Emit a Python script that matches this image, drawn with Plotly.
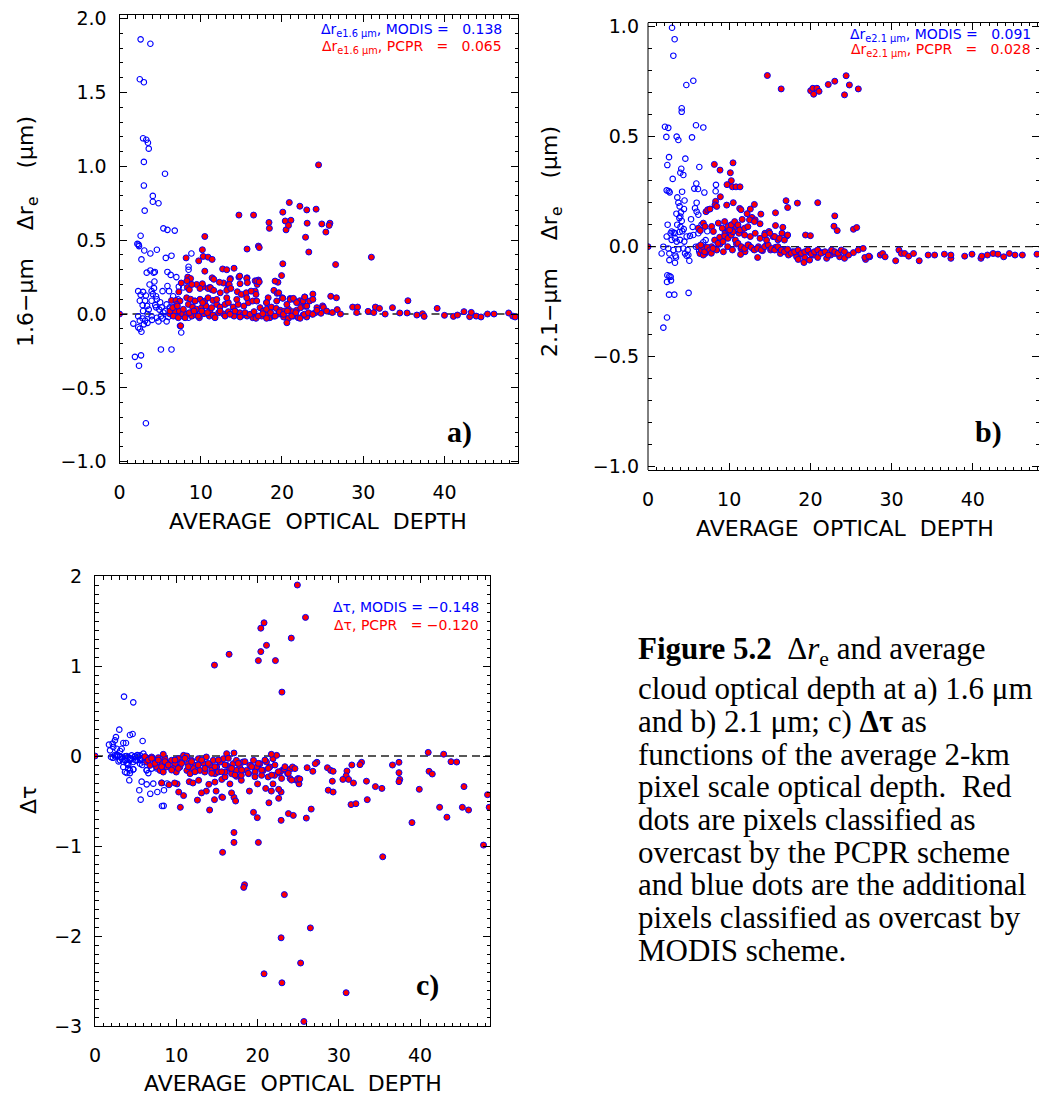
import plotly.graph_objects as go

# ---------------- data ----------------
# Panel a: 1.6-um delta r_e vs average optical depth
A_MODIS_ONLY = [
    (2.6, 1.86), (3.8, 1.83), (2.5, 1.59), (3.0, 1.57), (2.9, 1.19), (3.3, 1.18), (3.5, 1.16), (3.6, 1.12),
    (3.0, 1.03), (5.6, 0.95), (3.0, 0.87), (4.1, 0.80), (4.1, 0.76), (4.8, 0.75), (3.1, 0.70), (5.4, 0.58),
    (5.9, 0.57), (6.8, 0.565), (2.6, 0.53), (2.2, 0.475), (2.35, 0.47), (2.4, 0.46), (2.7, 0.37), (3.05, 0.43),
    (3.8, 0.41), (4.6, 0.435), (5.7, 0.38), (6.4, 0.395), (8.85, 0.41), (8.5, 0.32), (8.5, 0.30),
    (3.35, 0.28), (3.8, 0.295), (4.2, 0.28), (4.35, 0.285), (5.9, 0.285), (6.3, 0.265), (7.0, 0.25), (7.3, 0.185),
    (7.85, 0.18), (2.3, 0.155), (2.9, 0.15), (2.6, 0.13), (3.25, 0.125), (3.95, 0.155), (4.25, 0.175), (4.1, 0.135),
    (4.5, 0.12), (5.3, 0.155), (5.9, 0.19), (6.1, 0.155), (2.5, 0.09), (3.15, 0.09), (2.85, 0.06), (3.4, 0.055),
    (3.95, 0.09), (4.5, 0.045), (4.9, 0.03), (5.2, 0.045), (5.4, 0.01), (5.8, 0.065), (6.2, 0.045),
    (2.3, -0.015), (2.85, -0.03), (3.45, 0.0), (3.95, -0.015), (4.6, -0.025), (5.1, -0.015), (5.3, -0.03),
    (2.5, -0.045), (3.15, -0.045), (1.7, -0.065), (2.3, -0.09), (2.7, -0.12), (2.5, -0.10),
    (5.1, -0.24), (6.4, -0.24), (7.45, -0.015), (8.5, -0.025), (7.6, -0.125), (7.45, -0.08), (3.0, -0.07),
    (3.45, -0.06), (1.9, -0.29), (2.65, -0.28), (2.4, -0.35), (3.25, -0.74),
    (3.7, 0.20), (4.3, 0.22), (4.6, 0.10), (5.0, 0.08), (5.6, 0.02), (6.0, -0.02), (4.4, 0.06), (3.6, 0.03),
    (2.9, 0.02), (4.0, -0.04), (4.8, -0.05), (5.8, -0.05), (6.6, 0.12), (7.2, 0.10), (6.9, 0.03),
]
A_PCPR = [
    (0.0, 0.0),
    (24.5, 1.01), (20.9, 0.755), (22.2, 0.73), (24.2, 0.71), (23.05, 0.705), (20.1, 0.69), (14.7, 0.67),
    (16.5, 0.67), (18.4, 0.62), (18.45, 0.58), (20.4, 0.63), (21.1, 0.635), (20.5, 0.57), (20.8, 0.60),
    (23.1, 0.615), (24.9, 0.61), (25.9, 0.615), (25.8, 0.60), (25.4, 0.555), (22.9, 0.52), (10.5, 0.525),
    (23.3, 0.42), (26.6, 0.335), (31.0, 0.385), (20.1, 0.34), (15.7, 0.44), (17.1, 0.46), (17.2, 0.45),
    (10.2, 0.435), (10.3, 0.39), (10.9, 0.385), (11.4, 0.37), (9.75, 0.36), (8.2, 0.38), (14.1, 0.31),
    (12.7, 0.305), (13.2, 0.30), (19.95, 0.26), (19.5, 0.215), (10.5, 0.29), (11.4, 0.245), (11.6, 0.235),
    (8.4, 0.25), (8.75, 0.24), (8.3, 0.225), (13.65, 0.24), (14.7, 0.25), (15.7, 0.245), (16.7, 0.225),
    (17.1, 0.23), (16.95, 0.20), (12.8, 0.21), (13.4, 0.20), (13.3, 0.17), (12.3, 0.215), (10.3, 0.185),
    (11.1, 0.18), (11.35, 0.165), (9.5, 0.20), (8.35, 0.18), (8.6, 0.165), (8.9, 0.20), (7.6, 0.21),
    (7.3, 0.15), (19.0, 0.16), (19.4, 0.14), (20.05, 0.11), (21.0, 0.105), (21.4, 0.10), (22.8, 0.115),
    (23.8, 0.135), (26.0, 0.12), (26.7, 0.11), (35.5, 0.09), (22.2, 0.09), (22.5, 0.075), (25.0, 0.055),
    (25.1, 0.045), (14.8, 0.257), (15.66, 0.241), (15.74, 0.212), (14.84, 0.205), (16.9, 0.223),
    (17.2, 0.218), (16.7, 0.155), (13.6, 0.234), (13.5, 0.2), (10.2, 0.205), (9.9, 0.173), (10.9, 0.173),
    (11.2, 0.178), (11.6, 0.16), (12.4, 0.144), (13.2, 0.16), (13.7, 0.173), (14.5, 0.151), (15.0, 0.133),
    (15.6, 0.144), (16.2, 0.155), (16.8, 0.133), (6.4, 0.092), (6.96, 0.092), (7.45, 0.088), (7.04, 0.065),
    (6.63, 0.043), (6.83, 0.02), (7.37, 0.02), (6.2, 0.0), (6.63, -0.014), (7.24, -0.025), (7.78, 0.0),
    (7.53, -0.08), (8.27, 0.11), (8.76, 0.10), (9.3, 0.088), (9.91, 0.10), (10.5, 0.088), (10.9, 0.11),
    (11.5, 0.092), (8.48, 0.065), (9.0, 0.047), (9.5, 0.032), (10.1, 0.043), (10.65, 0.054), (11.1, 0.02),
    (8.27, 0.0), (8.9, -0.014), (9.42, -0.007), (9.83, -0.025), (10.4, 0.002), (11.06, -0.014),
    (11.5, -0.007), (11.97, 0.065), (12.38, 0.047), (12.99, 0.065), (13.4, 0.077), (14.0, 0.047),
    (14.6, 0.065), (15.3, 0.054), (15.87, 0.077), (16.4, 0.088), (12.2, 0.009), (12.8, 0.0), (13.4, 0.016),
    (14.1, -0.014), (14.8, 0.009), (15.2, -0.007), (15.7, -0.014), (16.4, -0.025), (16.8, -0.029),
    (17.3, 0.043), (17.7, 0.02), (18.1, 0.032), (18.7, 0.047), (19.3, 0.038), (19.8, 0.025), (20.3, 0.02),
    (20.8, 0.032), (21.3, 0.016), (21.8, 0.025), (22.3, 0.043), (22.9, 0.052), (23.4, 0.088), (23.8, 0.099),
    (24.3, 0.043), (17.5, -0.014), (18.0, -0.007), (18.5, -0.025), (19.0, -0.014), (19.6, 0.0), (20.2, -0.02),
    (20.8, -0.029), (21.4, -0.014), (22.0, -0.025), (22.6, -0.007), (23.05, -0.02), (23.7, 0.0), (24.1, 0.009),
    (20.6, -0.059), (21.0, 0.099), (21.4, 0.106), (22.6, 0.088), (22.8, 0.115), (19.15, 0.223), (19.6, 0.144),
    (20.1, 0.106), (18.3, 0.11), (18.1, 0.077), (25.5, 0.02), (26.2, 0.01), (24.8, 0.005), (26.8, 0.03),
    (6.2, 0.02), (6.55, 0.043), (7.12, 0.054), (7.86, 0.032), (8.07, -0.025), (8.6, 0.009), (9.17, 0.02),
    (9.71, -0.014), (10.12, 0.02), (10.82, 0.009), (11.35, 0.043), (11.76, -0.025), (12.38, 0.02),
    (12.99, -0.014), (13.6, -0.002), (14.22, 0.02), (14.84, -0.02), (15.45, 0.009), (16.07, -0.002),
    (16.56, 0.016), (17.1, -0.014), (17.63, 0.002), (18.1, -0.029), (18.6, 0.009), (19.15, -0.014),
    (19.68, 0.014), (20.18, -0.002), (20.67, 0.02), (21.2, -0.014), (21.7, 0.009), (22.23, -0.029),
    (22.76, -0.002), (23.25, 0.009), (23.79, -0.002), (24.3, 0.025), (9.3, 0.088), (10.24, 0.077),
    (11.97, 0.099), (13.2, 0.11), (14.43, 0.099), (15.66, 0.11), (16.89, 0.088), (18.1, 0.077),
    (19.35, 0.088), (20.6, 0.065), (21.8, 0.077), (23.05, 0.054),
    (27.2, 0.0), (28.7, 0.047), (29.3, 0.047), (29.2, 0.01), (30.6, 0.018), (31.3, 0.01), (31.5, 0.047),
    (32.0, 0.038), (32.7, 0.0), (33.6, 0.043), (34.5, 0.007), (35.4, 0.007), (36.6, -0.007), (37.3, 0.002),
    (37.5, -0.016), (39.1, 0.038), (40.0, -0.009), (41.1, -0.016), (41.6, -0.007), (42.4, 0.016),
    (43.1, -0.018), (43.3, 0.011), (43.9, -0.014), (44.5, -0.02), (45.3, 0.0), (46.1, 0.0), (47.9, 0.007),
    (48.4, -0.014), (48.7, -0.02),
]

# Panel b: 2.1-um delta r_e vs average optical depth
B_MODIS_ONLY = [
    (2.96, 0.995), (3.28, 0.943), (3.12, 0.868), (4.72, 0.735), (5.58, 0.754), (4.15, 0.629), (4.15, 0.613),
    (2.09, 0.545), (2.5, 0.54), (2.26, 0.499), (3.53, 0.50), (3.74, 0.485), (5.91, 0.552), (6.81, 0.542),
    (5.42, 0.497), (2.59, 0.407), (2.38, 0.371), (4.6, 0.40), (4.1, 0.354), (3.98, 0.336), (4.35, 0.326),
    (6.32, 0.362), (3.04, 0.308), (2.3, 0.256), (2.67, 0.247), (2.55, 0.253), (5.95, 0.287), (5.7, 0.264),
    (6.16, 0.262), (6.94, 0.246), (3.61, 0.224), (8.37, 0.281), (8.33, 0.252), (3.74, 0.20), (3.9, 0.183),
    (4.06, 0.156), (3.86, 0.13), (4.15, 0.117), (3.98, 0.137), (4.43, 0.171), (5.99, 0.2), (5.79, 0.175),
    (5.99, 0.159), (6.2, 0.145), (2.42, 0.10), (2.91, 0.069), (3.16, 0.064), (2.79, 0.061), (3.32, 0.061),
    (3.9, 0.067), (4.23, 0.07), (5.3, 0.125), (2.3, 0.046), (2.91, 0.031), (3.32, 0.038), (3.53, 0.023),
    (3.94, 0.031), (4.47, 0.023), (4.76, 0.046), (5.17, 0.049), (5.58, 0.053), (6.2, 0.061), (1.89, 0.0),
    (2.5, -0.008), (3.12, -0.015), (3.74, -0.012), (4.35, -0.008), (4.88, -0.015), (4.56, -0.031),
    (4.97, -0.038), (1.68, -0.031), (2.63, -0.031), (3.37, -0.041), (3.45, -0.049), (2.63, -0.061),
    (3.32, -0.073), (4.76, -0.041), (5.09, -0.064), (2.38, -0.13), (2.63, -0.134), (2.79, -0.137),
    (2.34, -0.16), (2.83, -0.153), (2.59, -0.218), (3.24, -0.218), (5.0, -0.21), (2.34, -0.322),
    (1.89, -0.368), (3.6, 0.10), (4.0, 0.09), (4.4, 0.08), (3.5, 0.15), (4.2, 0.25), (4.5, 0.21), (5.5, 0.09),
    (6.6, 0.10), (7.3, 0.07), (6.8, 0.02), (5.9, 0.0), (6.3, -0.02), (7.1, 0.03),
]
B_PCPR = [
    (0.0, 0.0),
    (14.7, 0.778), (16.4, 0.717), (20.03, 0.709), (20.3, 0.72), (20.8, 0.72), (21.06, 0.706), (20.4, 0.693),
    (22.2, 0.737), (23.0, 0.752), (24.2, 0.69), (24.4, 0.777), (24.8, 0.735), (25.9, 0.717),
    (8.17, 0.374), (10.47, 0.381), (8.87, 0.348), (10.14, 0.336), (10.26, 0.30), (9.73, 0.282), (10.4, 0.272),
    (10.84, 0.272), (11.33, 0.272), (8.91, 0.227), (8.33, 0.206), (8.25, 0.19), (8.46, 0.183), (10.5, 0.20),
    (9.69, 0.189), (11.29, 0.174), (11.45, 0.168), (12.6, 0.171), (11.6, 0.124), (13.1, 0.192), (12.2, 0.15),
    (12.8, 0.133), (13.2, 0.122), (13.9, 0.148), (13.8, 0.104), (15.7, 0.154), (15.7, 0.096), (17.0, 0.209),
    (17.2, 0.178), (18.4, 0.198), (20.9, 0.20), (16.6, 0.088), (19.4, 0.053), (20.0, 0.05), (23.0, 0.14),
    (22.9, 0.093), (23.3, 0.073), (25.3, 0.079), (25.7, 0.087), (7.14, 0.159), (7.35, 0.168), (7.63, 0.171),
    (6.2, 0.084), (6.44, 0.073), (6.81, 0.107), (7.02, 0.092), (7.84, 0.092), (8.05, 0.069), (8.66, 0.107),
    (9.15, 0.084), (9.48, 0.061), (9.89, 0.076), (10.22, 0.099), (10.8, 0.092), (11.2, 0.061), (11.6, 0.076),
    (11.9, 0.053), (12.6, 0.046), (13.2, 0.061), (13.8, 0.038), (14.4, 0.061), (14.9, 0.069), (15.4, 0.046),
    (16.0, 0.031), (16.5, 0.061), (17.1, 0.049), (6.2, 0.0), (6.61, -0.015), (7.02, -0.031), (7.43, -0.008),
    (6.4, -0.031), (6.81, -0.038), (7.84, 0.0), (8.46, -0.015), (8.87, 0.012), (9.28, -0.023), (9.81, 0.0),
    (10.4, -0.015), (10.9, 0.012), (11.45, -0.008), (11.95, -0.023), (12.4, 0.008), (13.0, -0.012),
    (13.6, 0.0), (14.1, -0.018), (14.6, 0.008), (15.1, -0.015), (15.7, -0.003), (16.3, -0.031),
    (16.8, -0.015), (17.3, -0.038), (17.8, -0.023), (18.3, -0.046), (18.8, -0.031), (19.3, -0.049),
    (19.8, -0.023), (20.4, -0.038), (20.9, -0.049), (21.4, -0.027), (22.0, -0.053), (22.5, -0.038),
    (23.0, -0.031), (23.6, -0.046), (24.2, -0.053), (24.7, -0.038), (25.3, -0.027), (25.9, -0.015),
    (26.5, -0.008), (26.8, -0.058), (27.3, -0.046), (19.2, -0.072), (19.9, -0.061), (18.5, -0.058),
    (13.5, -0.049), (11.4, -0.035), (26.7, -0.049), (27.2, -0.043),
    (6.57, -0.015), (6.77, 0.0), (6.98, -0.023), (7.3, -0.003), (7.6, -0.015), (6.5, 0.008), (7.8, -0.03),
    (8.0, -0.008), (8.21, 0.03), (8.62, 0.015), (8.83, 0.043), (9.24, 0.023), (9.44, 0.049), (9.85, 0.038),
    (10.26, 0.053), (10.47, 0.068), (10.76, 0.03), (11.08, 0.015), (11.49, 0.0), (11.9, -0.008), (12.3, 0.008),
    (12.7, -0.003), (13.1, -0.015), (13.5, -0.008), (13.96, -0.015), (14.37, 0.0), (14.8, 0.008),
    (15.2, -0.008), (15.6, -0.015), (16.0, 0.0), (16.4, -0.015), (16.8, -0.023), (17.2, -0.012),
    (17.65, -0.03), (18.06, -0.023), (18.5, -0.015), (18.9, -0.03), (19.3, -0.023), (19.7, -0.015),
    (20.1, -0.033), (20.5, -0.023), (20.9, -0.015), (21.3, -0.03), (21.8, -0.023), (22.2, -0.038),
    (22.6, -0.015), (23.0, -0.023), (23.4, -0.03), (23.8, -0.015), (24.2, -0.023), (9.44, 0.114),
    (9.85, 0.091), (10.06, 0.076), (10.26, 0.099), (10.67, 0.114), (11.08, 0.099), (11.29, 0.076),
    (11.9, 0.084), (12.3, 0.091), (12.5, 0.122), (13.1, 0.114), (14.37, 0.053), (14.6, 0.03), (15.0, 0.061),
    (15.6, 0.046), (16.2, 0.038), (16.8, 0.03), (17.2, 0.053),
    (28.6, -0.038), (28.9, -0.031), (29.2, -0.046), (30.5, -0.064), (30.9, -0.015), (31.2, -0.031),
    (31.6, -0.031), (32.1, -0.043), (32.7, -0.031), (33.4, -0.064), (34.5, -0.038), (35.3, -0.038),
    (36.5, -0.034), (37.3, -0.053), (37.3, -0.038), (39.0, -0.043), (39.9, -0.034), (41.0, -0.053),
    (41.1, -0.043), (41.8, -0.038), (42.5, -0.031), (43.1, -0.034), (43.8, -0.046), (44.5, -0.031),
    (45.2, -0.038), (46.1, -0.038), (47.9, -0.034),
]

# Panel c: delta tau vs average optical depth
C_MODIS_ONLY = [
    (3.57, 0.66), (4.71, 0.596), (2.99, 0.293), (4.3, 0.233), (4.63, 0.244), (3.48, 0.144), (3.81, 0.144),
    (5.86, 0.167), (1.72, 0.126), (2.17, 0.137), (2.46, 0.174), (2.58, 0.21), (2.25, 0.1), (2.67, 0.081),
    (1.85, 0.063), (3.08, 0.056), (3.28, 0.081), (1.97, -0.011), (2.46, -0.004), (2.87, 0.007),
    (3.28, -0.011), (3.69, -0.004), (4.1, -0.011), (4.51, 0.007), (4.92, -0.004), (5.33, -0.011),
    (5.74, -0.03), (3.08, -0.048), (3.48, -0.067), (3.9, -0.078), (4.3, -0.048), (4.71, -0.067),
    (5.13, -0.048), (5.54, -0.085), (5.95, -0.067), (3.48, -0.122), (3.69, -0.178), (3.9, -0.189),
    (4.3, -0.16), (4.71, -0.148), (4.1, -0.14), (4.22, -0.27), (5.74, -0.285), (6.36, -0.315), (5.45, -0.38),
    (6.8, -0.42), (7.67, -0.4), (8.24, -0.556), (5.62, -0.485), (7.17, -0.307), (6.36, -0.16), (6.97, -0.14),
    (5.95, 0.026), (5.54, 0.007), (2.46, 0.011), (3.08, -0.007), (3.69, -0.045), (4.3, -0.026),
    (4.92, -0.007), (5.54, -0.045), (6.15, -0.026), (4.1, -0.1), (4.3, -0.19), (4.71, -0.149), (6.36, -0.156),
    (6.56, -0.19), (8.2, -0.298), (8.86, -0.305), (7.59, -0.138), (8.49, -0.38), (8.45, -0.554),
    (2.2, -0.02), (2.7, 0.01), (3.3, -0.03), (3.9, 0.0), (4.5, -0.03), (5.0, -0.05), (5.2, 0.01),
    (2.9, -0.06), (4.0, -0.09), (5.8, -0.1),
]
C_PCPR = [
    (0.0, 0.0),
    (24.9, 1.90), (25.9, 1.54), (20.8, 1.48), (20.4, 1.42), (24.15, 1.31), (21.1, 1.23), (16.5, 1.13),
    (20.4, 1.16), (20.1, 1.06), (22.2, 1.06), (14.7, 1.01), (23.0, 0.71), (17.1, -0.85), (17.1, -0.96),
    (15.7, -1.07), (20.1, -0.96), (18.4, -1.43), (18.3, -1.46), (23.3, -1.54), (35.4, -1.12), (26.5, -1.91),
    (22.9, -2.02), (25.3, -2.30), (20.8, -2.42), (23.0, -2.52), (30.9, -2.63), (25.7, -2.95), (47.8, -0.99),
    (48.3, -0.43), (48.5, -0.57), (39.0, -0.74), (42.4, -0.57), (43.3, -0.68), (45.2, -0.57), (45.96, -0.60),
    (45.4, -0.34), (39.9, -0.37), (41.0, 0.04), (42.9, 0.02), (43.8, -0.063), (44.5, -0.067), (41.1, -0.17),
    (41.5, -0.20), (36.6, -0.10), (37.4, -0.07), (37.4, -0.185), (37.5, -0.26), (37.4, -0.285), (34.5, -0.34),
    (35.3, -0.36), (33.4, -0.28), (33.5, -0.485), (31.5, -0.54), (32.1, -0.53), (32.8, -0.07), (32.6, -0.096),
    (31.6, -0.10), (31.0, -0.167), (30.9, -0.22), (31.2, -0.26), (31.8, -0.30), (30.5, -0.26), (28.6, -0.13),
    (29.0, -0.16), (29.3, -0.17), (29.2, -0.28), (28.7, -0.38), (29.3, -0.40), (27.3, -0.07), (27.1, -0.085),
    (26.8, -0.17), (26.1, -0.13), (26.6, -0.59), (26.0, -0.69), (23.8, -0.64), (24.4, -0.66), (22.9, -0.715),
    (19.97, -0.685), (19.5, -0.626), (21.4, -0.52), (22.6, -0.47), (22.9, -0.40), (22.6, -0.37),
    (21.9, -0.31), (21.7, -0.39), (19.0, -0.39), (20.0, -0.31), (21.0, -0.36), (17.1, -0.46), (17.3, -0.50),
    (16.8, -0.41), (16.6, -0.31), (15.6, -0.455), (15.7, -0.46), (14.7, -0.485), (14.9, -0.39), (13.7, -0.39),
    (13.1, -0.41), (14.1, -0.60), (12.6, -0.49), (10.9, -0.44), (10.3, -0.40), (10.5, -0.57), (10.1, -0.31),
    (9.8, -0.30), (8.2, -0.30), (9.1, -0.32), (11.6, -0.285), (12.05, -0.30), (12.75, -0.27), (14.0, -0.315),
    (14.75, -0.29), (15.6, -0.26), (16.0, -0.233), (17.4, -0.226), (18.0, -0.27), (22.7, -0.19),
    (23.7, -0.196), (24.0, -0.25), (24.8, -0.27), (25.1, -0.31), (25.0, -0.25),
    (6.15, -0.011), (6.56, -0.03), (6.97, -0.011), (7.38, -0.048), (7.79, -0.019), (8.2, -0.067),
    (8.61, -0.03), (9.02, -0.078), (9.43, -0.048), (9.84, -0.085), (10.25, -0.03), (10.66, -0.067),
    (11.07, -0.011), (11.48, -0.085), (11.89, -0.048), (12.3, -0.104), (12.71, -0.03), (13.3, -0.078),
    (13.7, -0.011), (14.15, -0.104), (14.56, -0.048), (14.97, -0.122), (15.38, -0.067), (15.8, -0.03),
    (16.2, -0.104), (16.6, -0.14), (17.0, -0.085), (17.4, -0.048), (17.8, -0.122), (18.2, -0.067),
    (18.65, -0.16), (19.06, -0.104), (19.5, -0.048), (19.9, -0.122), (20.3, -0.085), (20.7, -0.16),
    (21.1, -0.067), (21.5, -0.122), (21.9, -0.03), (22.35, 0.007), (21.7, 0.019), (6.36, -0.067),
    (6.77, -0.104), (7.59, -0.122), (8.0, -0.16), (8.4, -0.178), (8.8, -0.122), (9.6, -0.14), (10.0, -0.178),
    (10.45, -0.122), (11.3, -0.16), (11.7, -0.196), (12.1, -0.14), (12.9, -0.16), (13.5, -0.178),
    (14.35, -0.16), (14.76, -0.196), (15.17, -0.178), (16.0, -0.178), (16.8, -0.196), (17.4, -0.16),
    (18.0, -0.215), (18.9, -0.196), (19.7, -0.178), (20.5, -0.215), (21.3, -0.233), (22.1, -0.215),
    (23.0, -0.16), (23.3, -0.144), (8.4, 0.019), (10.9, 0.007), (11.3, 0.0), (16.2, 0.026), (17.1, 0.033),
    (24.0, -0.148), (24.3, -0.122), (24.6, -0.14), (24.9, -0.26), (25.2, -0.256),
    (6.15, -0.007), (6.56, -0.045), (6.97, -0.026), (7.38, -0.082), (7.79, -0.045), (8.2, -0.119),
    (8.61, -0.063), (9.02, -0.1), (9.43, -0.156), (9.84, -0.045), (10.25, -0.138), (10.66, -0.082),
    (11.07, -0.026), (11.48, -0.119), (11.89, -0.063), (12.3, -0.175), (12.71, -0.1), (13.12, -0.045),
    (13.53, -0.138), (13.94, -0.082), (14.35, -0.193), (14.76, -0.119), (15.17, -0.045), (15.58, -0.175),
    (15.99, -0.1), (16.4, -0.026), (16.81, -0.138), (17.22, -0.212), (17.63, -0.082), (18.04, -0.156),
    (18.45, -0.063), (18.86, -0.193), (19.27, -0.119), (19.68, -0.231), (20.09, -0.082), (20.5, -0.156),
    (20.91, -0.045), (21.32, -0.138), (21.73, -0.212), (22.14, -0.1), (22.55, -0.175), (22.96, -0.249),
    (23.37, -0.119), (23.78, -0.193), (24.19, -0.268),
]

LEGEND_A = ("0.138", "0.065")
LEGEND_B = ("0.091", "0.028")
LEGEND_C = ("−0.148", "−0.120")

X_TICKS = [0, 10, 20, 30, 40]

CAPTION_LINES = [
    "<b>Figure 5.2</b>\u00a0\u00a0Δ<i>r</i><sub>e</sub> and average",
    "cloud optical depth at a) 1.6 μm",
    "and b) 2.1 μm; c) <b>Δτ</b> as",
    "functions of the average 2-km",
    "pixel scale optical depth.\u00a0\u00a0Red",
    "dots are pixels classified as",
    "overcast by the PCPR scheme",
    "and blue dots are the additional",
    "pixels classified as overcast by",
    "MODIS scheme.",
]

# ---------------- layout helpers ----------------
W, H = 1039, 1095
BLUE = "rgb(0,0,255)"
RED = "rgb(255,0,0)"
FONT = "DejaVu Sans"
SERIF = "Liberation Serif"
NB = "\u00a0"


def fx(p):
    return p / W


def fy(p):
    return 1 - p / H


fig = go.Figure()

panels = [
    dict(id="", modis=A_MODIS_ONLY, pcpr=A_PCPR, xpx=(119.5, 518), ypx=(15, 463.3), xr=[0, 49.05],
         yr=[-1.011, 2.025], ydt=0.5, yfmt=".1f", rightline=True),
    dict(id="2", modis=B_MODIS_ONLY, pcpr=B_PCPR, xpx=(648, 1039), ypx=(22.7, 470), xr=[0, 48.15],
         yr=[-1.015, 1.018], ydt=0.5, yfmt=".1f", rightline=False),
    dict(id="3", modis=C_MODIS_ONLY, pcpr=C_PCPR, xpx=(95, 490), ypx=(576, 1026), xr=[0, 48.6],
         yr=[-3.0, 2.0], ydt=1, yfmt="d", rightline=True),
]

for p in panels:
    xa, ya = "x" + p["id"], "y" + p["id"]
    fig.add_trace(go.Scatter(
        x=[a for a, b in p["modis"]], y=[b for a, b in p["modis"]], mode="markers",
        xaxis=xa, yaxis=ya, showlegend=False, hoverinfo="skip",
        marker=dict(symbol="circle-open", size=5.5, color=BLUE, line=dict(width=1.1, color=BLUE))))
    fig.add_trace(go.Scatter(
        x=[a for a, b in p["pcpr"]], y=[b for a, b in p["pcpr"]], mode="markers",
        xaxis=xa, yaxis=ya, showlegend=False, hoverinfo="skip",
        marker=dict(symbol="circle", size=6, color=RED, line=dict(width=1, color=BLUE))))

    common = dict(linecolor="black", linewidth=1, mirror="ticks", ticks="inside",
                  ticklen=7, tickwidth=1, tickcolor="black", showgrid=False, zeroline=False,
                  automargin=False, tickfont=dict(family=FONT, size=19, color="black"))
    fig.update_layout(**{
        "xaxis" + p["id"]: dict(domain=[fx(p["xpx"][0]), fx(p["xpx"][1])], range=p["xr"], anchor=ya,
                                tickvals=X_TICKS, ticklabelstandoff=12, showline=True,
                                minor=dict(dtick=1, tick0=0, ticks="inside", ticklen=3.5,
                                           tickcolor="black", tickwidth=1),
                                **common),
        "yaxis" + p["id"]: dict(domain=[fy(p["ypx"][1]), fy(p["ypx"][0])], range=p["yr"], anchor=xa,
                                dtick=p["ydt"], tick0=0, tickformat=p["yfmt"], ticklabelstandoff=8,
                                showline=p["rightline"],
                                minor=dict(dtick=0.1, tick0=0, ticks="inside", ticklen=3.5,
                                           tickcolor="black", tickwidth=1),
                                **common),
    })
    if not p["rightline"]:
        # left frame edge only (the right edge of this panel lies outside the page)
        fig.add_shape(type="line", xref=xa + " domain", yref=ya + " domain", x0=0, x1=0, y0=0, y1=1,
                      line=dict(color="black", width=1))
    fig.add_shape(type="line", xref=xa + " domain", yref=ya, x0=0, x1=1, y0=0, y1=0,
                  line=dict(color="#222222", width=1.3, dash="8px,5px"), layer="below")

ann = []


def text(x, y, s, size, color="black", family=FONT, xanchor="center", yanchor="middle", angle=0):
    ann.append(dict(x=fx(x), y=fy(y), xref="paper", yref="paper", text=s, showarrow=False,
                    xanchor=xanchor, yanchor=yanchor, textangle=angle, borderpad=0,
                    font=dict(family=family, size=size, color=color)))


# axis titles
XT = f"AVERAGE{NB}{NB}OPTICAL{NB}{NB}DEPTH"
GAP = NB * 4
text(318, 521, XT, 22)
text(845, 528, XT, 22)
text(293, 1083, XT, 22)
text(28, 232, f"1.6−μm{GAP}Δr<sub>e</sub>{GAP}(μm)", 22, angle=-90)
text(551, 242, f"2.1−μm{GAP}Δr<sub>e</sub>{GAP}(μm)", 22, angle=-90)
text(28, 800, "Δτ", 22, angle=-90)

# legends inside the panels
text(503, 30, f"Δr<sub>e1.6 μm</sub>, MODIS{NB}={NB}{NB}{NB}{LEGEND_A[0]}", 14, BLUE, xanchor="right")
text(503, 47, f"Δr<sub>e1.6 μm</sub>, PCPR{NB}{NB}{NB}={NB}{NB}{NB}{LEGEND_A[1]}", 14, RED, xanchor="right")
text(1032, 35, f"Δr<sub>e2.1 μm</sub>, MODIS{NB}={NB}{NB}{NB}{LEGEND_B[0]}", 14, BLUE, xanchor="right")
text(1032, 50, f"Δr<sub>e2.1 μm</sub>, PCPR{NB}{NB}{NB}={NB}{NB}{NB}{LEGEND_B[1]}", 14, RED, xanchor="right")
text(480, 607, f"Δτ, MODIS = {LEGEND_C[0]}", 14, BLUE, xanchor="right")
text(480, 625, f"Δτ, PCPR{NB}{NB} = {LEGEND_C[1]}", 14, RED, xanchor="right")

# panel letters
text(459, 432, "<b>a)</b>", 30, family=SERIF)
text(988, 432, "<b>b)</b>", 30, family=SERIF)
text(427, 985, "<b>c)</b>", 30, family=SERIF)

# caption
for i, line in enumerate(CAPTION_LINES):
    yline = 656 + i * 32.7 - (5.5 if i == 0 else 0)
    text(637, yline, line, 31, family=SERIF, xanchor="left")

fig.update_layout(template="none", width=W, height=H, margin=dict(l=0, r=0, t=0, b=0, pad=0),
                  paper_bgcolor="white", plot_bgcolor="white", annotations=ann, showlegend=False)

fig.write_html("out.html")
